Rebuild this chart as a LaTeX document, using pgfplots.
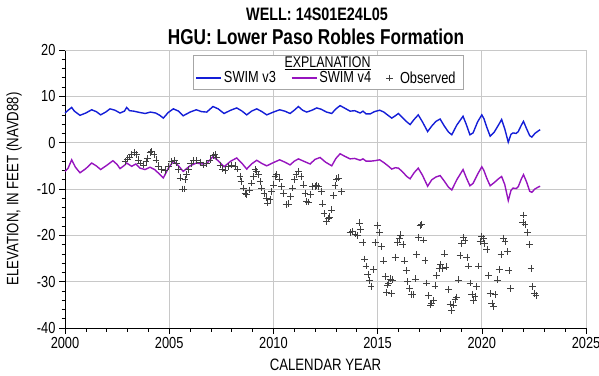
\documentclass[border=0pt]{standalone}
\usepackage{pgfplots}
\pgfplotsset{compat=1.18}
\usepackage{fontspec}
\setmainfont{Liberation Sans}[FakeStretch=0.8]
\definecolor{vthree}{RGB}{20,30,215}
\definecolor{vfour}{RGB}{150,20,190}
\definecolor{gridc}{RGB}{200,200,200}
\begin{document}
\begin{tikzpicture}
\useasboundingbox (-65pt,-47pt) rectangle (534pt,328pt);
\begin{axis}[
  scale only axis, width=521pt, height=278pt,
  xmin=2000, xmax=2025, ymin=-40, ymax=20,
  xtick={2000,2005,...,2025}, ytick={-40,-30,...,20},
  minor x tick num=4, minor y tick num=4,
  axis x line*=bottom, axis y line*=left,
  axis line style={-, black, line width=0.8pt},
  tick align=outside, major tick length=6pt, minor tick length=3.5pt,
  every tick/.style={black, line width=0.6pt},
  grid=major, major grid style={gridc, line width=0.9pt},
  /pgf/number format/assume math mode=true,
  /pgf/number format/1000 sep={},
  ticklabel style={font=\fontsize{16}{16}\selectfont},
  xlabel={CALENDAR YEAR},
  ylabel={ELEVATION, IN FEET (NAVD88)},
  every axis x label/.style={at={(rel axis cs:0.5,0)}, anchor=center, yshift=-37pt, font=\fontsize{16.5}{17}\selectfont},
  every axis y label/.style={at={(rel axis cs:0,0.5)}, anchor=center, rotate=90, yshift=51pt, font=\fontsize{16.5}{17}\selectfont},
  legend style={draw=none, fill=none, at={(rel axis cs:0.502,0.899)}, anchor=center,
    legend columns=3, font=\fontsize{16}{16}\selectfont,
    /tikz/every even column/.append style={column sep=13pt}},
  clip=false,
]
\draw[gridc, line width=0.9pt] (rel axis cs:0,1) -- (rel axis cs:1,1) -- (rel axis cs:1,0);
\addplot[vthree, line width=1.4pt, legend image code/.code={\draw[vthree, line width=1.4pt] (0pt,0pt) -- (25pt,0pt);}] coordinates {
(2000.0,6.4)(2000.15,7.0)(2000.32,7.6)(2000.45,6.8)(2000.72,5.9)(2001.0,6.4)(2001.28,7.1)(2001.5,6.7)(2001.71,6.0)(2001.95,6.6)
(2002.16,7.3)(2002.4,7.0)(2002.64,6.4)(2002.85,6.8)(2002.96,7.6)(2003.1,6.9)(2003.3,6.8)(2003.6,6.5)(2003.85,6.3)(2004.1,6.6)
(2004.35,6.4)(2004.55,5.9)(2004.72,5.3)(2004.95,6.5)(2005.2,7.3)(2005.45,6.8)(2005.67,5.8)(2006.0,6.6)(2006.3,7.1)(2006.55,6.7)
(2006.8,6.6)(2007.1,7.8)(2007.35,7.3)(2007.63,6.3)(2007.95,7.0)(2008.24,7.5)(2008.5,6.8)(2008.72,6.0)(2008.95,6.8)(2009.2,7.3)
(2009.45,6.7)(2009.68,6.0)(2010.0,6.6)(2010.3,7.1)(2010.55,6.8)(2010.8,6.3)(2011.0,7.0)(2011.2,7.8)(2011.4,7.0)(2011.6,6.6)
(2011.85,7.0)(2012.08,7.5)(2012.3,7.2)(2012.55,6.6)(2012.8,6.3)(2013.0,7.3)(2013.2,8.0)(2013.4,7.5)(2013.68,6.8)(2013.9,6.9)
(2014.16,6.4)(2014.3,6.8)(2014.45,6.2)(2014.64,6.2)(2014.85,6.7)(2015.1,7.0)(2015.3,6.6)(2015.5,5.9)(2015.68,5.3)(2015.85,5.8)
(2016.0,6.3)(2016.2,5.4)(2016.4,4.5)(2016.56,3.9)(2016.75,5.0)(2016.95,6.0)(2017.15,4.5)(2017.4,2.4)(2017.6,3.6)(2017.8,4.6)
(2018.0,5.1)(2018.2,3.6)(2018.4,2.3)(2018.56,1.7)(2018.8,3.8)(2019.1,5.7)(2019.25,4.0)(2019.43,1.7)(2019.58,2.1)(2019.8,4.5)
(2020.0,6.0)(2020.1,5.2)(2020.25,3.2)(2020.4,1.4)(2020.6,2.3)(2020.8,3.8)(2020.95,5.0)(2021.1,3.0)(2021.27,0.1)(2021.4,1.8)
(2021.5,2.1)(2021.65,2.0)(2021.75,2.4)(2021.9,3.8)(2022.0,4.6)(2022.15,3.0)(2022.3,1.5)(2022.4,1.2)(2022.55,2.0)(2022.7,2.5)(2022.8,2.8)
};
\addlegendentry{SWIM v3}
\addplot[vfour, line width=1.4pt, legend image code/.code={\draw[vfour, line width=1.4pt] (0pt,0pt) -- (25pt,0pt);}] coordinates {
(2000.0,-6.2)(2000.15,-5.5)(2000.32,-3.7)(2000.5,-5.3)(2000.72,-6.5)(2001.0,-5.6)(2001.28,-4.4)(2001.5,-5.0)(2001.71,-5.8)(2002.0,-4.9)
(2002.3,-3.9)(2002.5,-4.7)(2002.64,-5.6)(2002.85,-4.9)(2002.96,-4.4)(2003.2,-5.1)(2003.4,-4.6)(2003.6,-5.5)(2003.84,-5.8)(2004.08,-5.3)
(2004.3,-5.8)(2004.56,-6.9)(2004.72,-7.6)(2004.95,-5.6)(2005.2,-4.0)(2005.45,-5.0)(2005.67,-6.2)(2006.0,-5.0)(2006.3,-4.4)(2006.55,-4.6)
(2006.8,-4.5)(2007.1,-3.0)(2007.35,-3.9)(2007.63,-5.2)(2007.95,-4.0)(2008.24,-3.3)(2008.5,-4.5)(2008.72,-5.7)(2008.95,-4.6)(2009.2,-3.8)
(2009.45,-4.5)(2009.68,-5.0)(2010.0,-4.3)(2010.3,-3.7)(2010.55,-4.2)(2010.8,-4.8)(2011.0,-4.0)(2011.2,-3.5)(2011.45,-4.0)(2011.76,-4.6)
(2012.0,-3.6)(2012.24,-3.2)(2012.5,-4.2)(2012.8,-5.0)(2013.0,-3.4)(2013.2,-2.4)(2013.45,-3.0)(2013.68,-3.5)(2013.9,-3.4)(2014.16,-3.8)
(2014.3,-3.5)(2014.45,-4.0)(2014.64,-4.0)(2014.85,-3.9)(2015.1,-3.7)(2015.3,-4.3)(2015.5,-5.0)(2015.68,-5.7)(2015.85,-5.4)(2016.0,-5.5)
(2016.2,-6.3)(2016.4,-7.3)(2016.56,-7.8)(2016.75,-6.5)(2016.95,-5.5)(2017.15,-7.0)(2017.4,-9.4)(2017.6,-8.0)(2017.8,-7.4)(2018.0,-7.1)
(2018.2,-8.3)(2018.4,-9.6)(2018.56,-10.2)(2018.8,-8.0)(2019.1,-5.8)(2019.25,-7.5)(2019.43,-9.3)(2019.58,-8.8)(2019.8,-6.8)(2020.0,-5.2)
(2020.1,-6.0)(2020.25,-7.8)(2020.4,-9.3)(2020.6,-8.6)(2020.8,-7.8)(2020.95,-7.3)(2021.1,-9.0)(2021.27,-12.5)(2021.4,-10.3)(2021.5,-9.8)
(2021.65,-9.9)(2021.75,-9.5)(2021.9,-7.8)(2022.0,-6.9)(2022.15,-8.5)(2022.3,-10.5)(2022.4,-10.7)(2022.55,-10.0)(2022.7,-9.6)(2022.8,-9.4)
};
\addlegendentry{SWIM v4}
\addplot[only marks, mark=+, mark size=3.4pt, black!75, mark options={line width=0.6pt}] coordinates {
(2002.88,-4.0)(2002.99,-3.5)(2003.10,-3.1)(2003.20,-2.6)(2003.33,-2.1)(2003.44,-2.6)(2003.52,-3.7)(2003.60,-4.4)(2003.76,-4.8)(2003.89,-4.0)
(2003.95,-3.3)(2004.08,-2.1)(2004.16,-1.9)(2004.27,-2.6)(2004.37,-3.7)(2004.48,-5.0)(2004.64,-5.8)(2004.80,-6.0)(2004.96,-5.1)(2005.12,-4.0)
(2005.25,-3.8)(2005.36,-4.4)(2005.44,-5.8)(2005.52,-7.6)(2005.65,-10.0)(2005.71,-10.0)(2005.76,-8.0)(2005.84,-6.9)(2005.92,-5.8)(2006.04,-4.5)
(2006.16,-3.8)(2006.32,-3.8)(2006.48,-4.2)(2006.64,-4.8)(2006.80,-4.5)(2006.96,-3.7)(2007.12,-2.8)(2007.20,-2.6)(2007.28,-3.1)(2007.44,-4.8)
(2007.57,-5.7)(2007.68,-6.0)(2007.84,-5.2)(2008.00,-4.8)(2008.16,-5.0)(2008.28,-5.7)(2008.40,-7.3)(2008.45,-8.4)(2008.56,-9.8)(2008.64,-10.9)
(2008.72,-11.2)(2008.85,-10.2)(2008.96,-8.7)(2009.04,-7.3)(2009.12,-5.8)(2009.20,-6.2)(2009.28,-6.9)(2009.36,-8.4)(2009.44,-9.8)(2009.55,-10.9)
(2009.65,-11.9)(2009.73,-13.0)(2009.84,-12.3)(2009.92,-10.5)(2010.00,-9.1)(2010.08,-7.3)(2010.16,-6.9)(2010.28,-7.8)(2010.40,-9.4)(2010.48,-10.9)
(2010.60,-13.4)(2010.72,-13.2)(2010.83,-11.6)(2010.93,-9.8)(2011.00,-8.0)(2011.08,-6.9)(2011.19,-6.2)(2011.32,-7.3)(2011.44,-9.1)(2011.52,-10.9)
(2011.60,-12.7)(2011.68,-12.8)(2011.79,-11.2)(2011.89,-9.4)(2012.00,-9.4)(2012.08,-9.3)(2012.16,-9.4)(2012.32,-10.5)(2012.36,-13.2)(2012.43,-15.3)
(2012.56,-17.0)(2012.64,-16.3)(2012.68,-16.0)(2012.80,-14.5)(2012.88,-11.4)(2012.96,-9.2)(2013.04,-7.8)(2013.12,-7.6)(2013.28,-10.6)(2013.68,-19.4)
(2013.80,-19.2)(2013.92,-19.7)(2014.03,-20.1)(2014.12,-17.3)(2014.19,-18.8)(2014.29,-21.5)(2014.37,-25.1)(2014.44,-26.6)(2014.53,-28.4)(2014.61,-29.7)
(2014.68,-31.0)(2014.79,-27.3)(2014.88,-21.5)(2014.99,-17.9)(2015.08,-19.4)(2015.20,-22.4)(2015.28,-25.5)(2015.36,-28.9)(2015.43,-32.3)(2015.47,-30.7)
(2015.51,-30.3)(2015.60,-29.4)(2015.68,-32.5)(2015.72,-29.6)(2015.84,-24.7)(2015.95,-21.5)(2016.04,-20.6)(2016.11,-19.9)(2016.21,-22.0)(2016.28,-25.5)
(2016.37,-27.6)(2016.43,-30.0)(2016.53,-31.4)(2016.64,-32.8)(2016.69,-32.8)(2016.80,-29.4)(2016.88,-24.2)(2016.96,-20.4)(2017.03,-17.9)(2017.12,-17.7)
(2017.20,-21.0)(2017.27,-25.4)(2017.36,-30.3)(2017.43,-33.0)(2017.55,-35.0)(2017.60,-34.6)(2017.67,-34.1)(2017.75,-30.9)(2017.84,-28.7)(2017.96,-27.1)
(2018.03,-26.3)(2018.12,-27.1)(2018.20,-24.0)(2018.28,-26.8)(2018.40,-31.7)(2018.47,-34.8)(2018.55,-36.2)(2018.63,-35.0)(2018.71,-33.9)(2018.79,-33.3)
(2018.87,-29.6)(2018.95,-24.4)(2019.03,-21.8)(2019.11,-20.4)(2019.19,-21.1)(2019.28,-24.7)(2019.35,-26.6)(2019.43,-30.3)(2019.52,-32.8)(2019.59,-34.1)
(2019.67,-33.2)(2019.75,-31.0)(2019.83,-26.6)(2019.91,-21.3)(2019.99,-20.2)(2020.07,-20.6)(2020.12,-21.7)(2020.24,-23.1)(2020.31,-28.7)(2020.40,-32.6)
(2020.48,-34.6)(2020.56,-35.4)(2020.63,-32.8)(2020.74,-29.6)(2020.83,-27.3)(2020.92,-24.2)(2021.03,-20.6)(2021.11,-21.3)(2021.22,-23.5)(2021.30,-27.6)
(2021.39,-31.4)(2021.97,-17.2)(2022.00,-15.6)(2022.07,-17.7)(2022.19,-19.4)(2022.28,-22.0)(2022.36,-27.1)(2022.44,-31.0)(2022.53,-32.5)(2022.60,-33.0)
};
\addlegendentry{\hspace{5pt}Observed}
\draw[gray!70, line width=0.8pt, fill=white] (rel axis cs:0.2457,0.982) rectangle (rel axis cs:0.764,0.860);
\node[font=\fontsize{15.5}{15.5}\selectfont] at (rel axis cs:0.504,0.952) {\underline{EXPLANATION}};
\end{axis}
\node[font=\bfseries\fontsize{18}{18}\selectfont] at (252pt,314pt) {WELL: 14S01E24L05};
\node[font=\bfseries\fontsize{21.5}{22}\selectfont] at (251pt,291pt) {HGU: Lower Paso Robles Formation};
\end{tikzpicture}
\end{document}
